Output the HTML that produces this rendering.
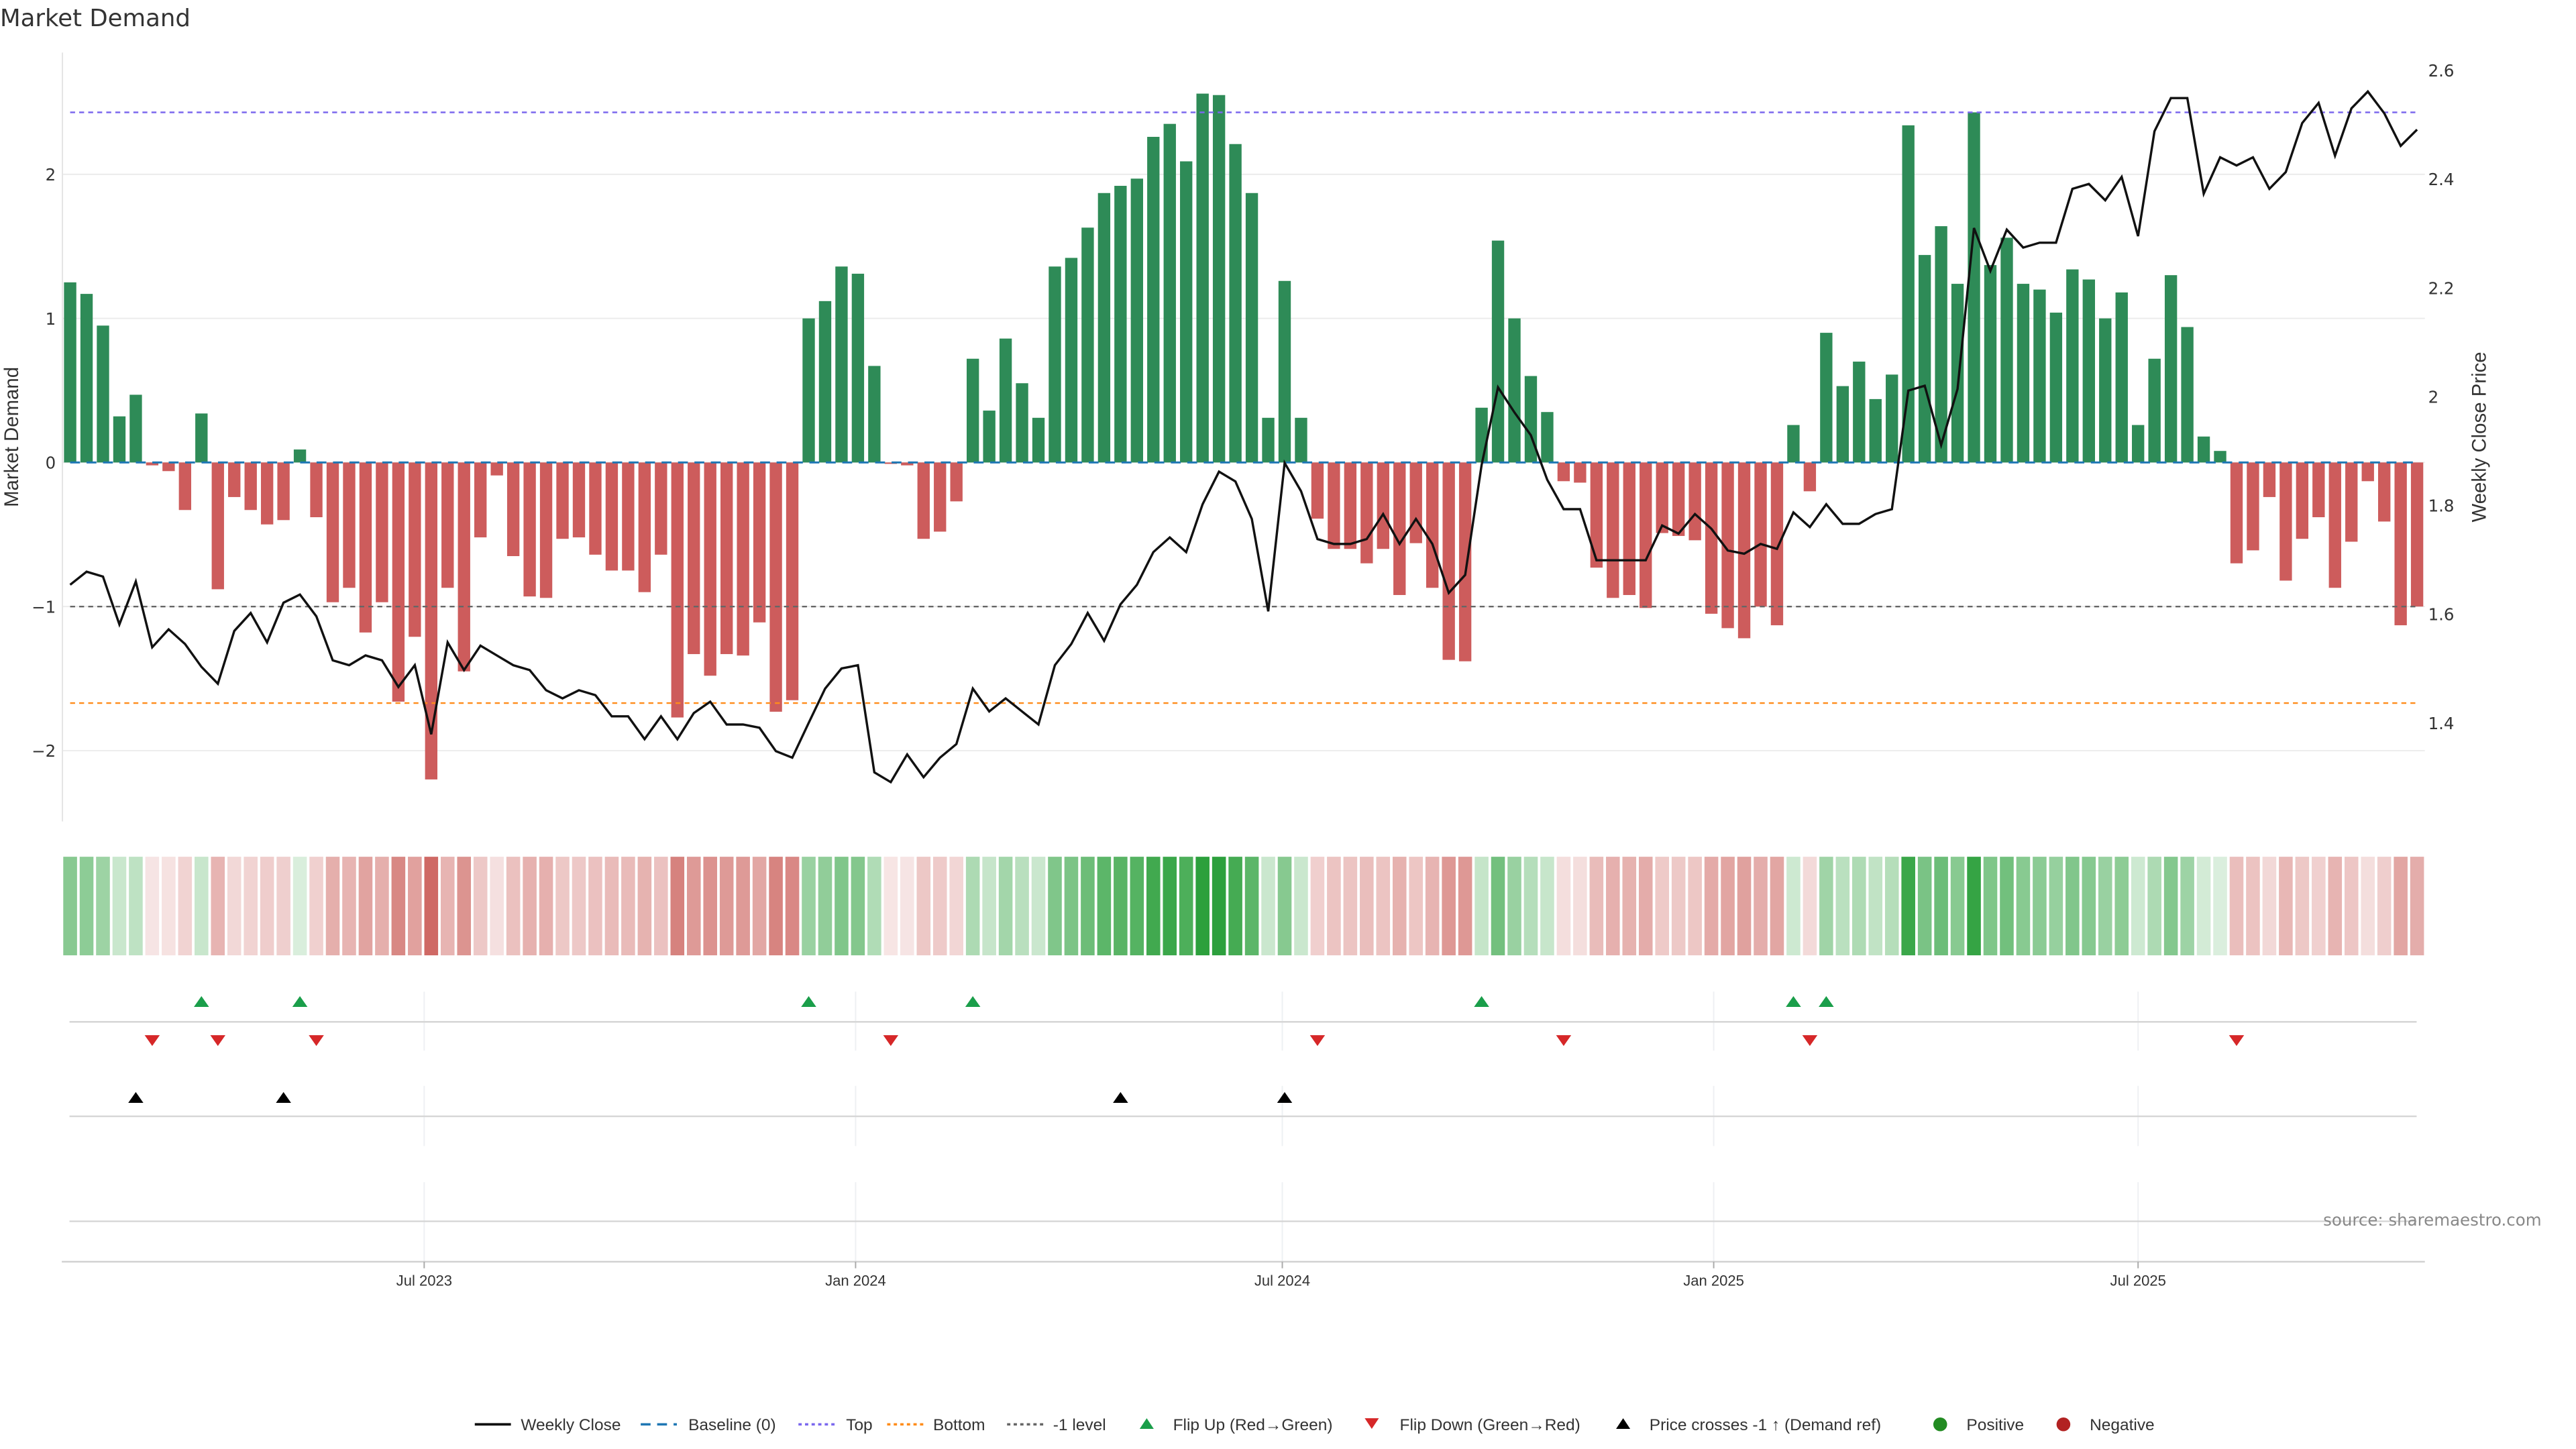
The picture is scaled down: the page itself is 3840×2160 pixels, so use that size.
<!DOCTYPE html>
<html><head><meta charset="utf-8"><title>Market Demand</title>
<style>
html,body{margin:0;padding:0;background:#fff;}
svg{display:block;}
text{font-family:"DejaVu Sans","Liberation Sans",sans-serif;}
.cond{font-family:"Liberation Sans Narrow","Liberation Sans",sans-serif;}
</style></head>
<body>
<svg id="chart" width="3840" height="2160" viewBox="0 0 1568 882" preserveAspectRatio="none" xmlns="http://www.w3.org/2000/svg">
  <text x="0" y="16" font-size="14.5" fill="#333">Market Demand</text>
  <g id="grid"></g>
  <g id="bars"></g>
  <g id="refs"></g>
  <g id="priceLayer"></g>
  <g id="axes"></g>
  <g id="heat"></g>
  <g id="events"></g>
  <g id="xaxis"></g>
  <text class="cond" transform="translate(11,266) rotate(-90)" text-anchor="middle" font-size="12" fill="#333">Market Demand</text>
  <text class="cond" transform="translate(1513,266) rotate(-90)" text-anchor="middle" font-size="12" fill="#333">Weekly Close Price</text>
  <text x="1547" y="746" text-anchor="end" font-size="10" fill="#888">source: sharemaestro.com</text>
  <g id="legend"></g>
</svg>
<script>
const startDate = "2023-01-31";
const demand = [1.25,1.17,0.95,0.32,0.47,-0.02,-0.06,-0.33,0.34,-0.88,
-0.24,-0.33,-0.43,-0.40,0.09,-0.38,-0.97,-0.87,-1.18,-0.97,
-1.66,-1.21,-2.20,-0.87,-1.45,-0.52,-0.09,-0.65,-0.93,-0.94,
-0.53,-0.52,-0.64,-0.75,-0.75,-0.90,-0.64,-1.77,-1.33,-1.48,
-1.33,-1.34,-1.11,-1.73,-1.65,1.00,1.12,1.36,1.31,0.67,
-0.01,-0.02,-0.53,-0.48,-0.27,0.72,0.36,0.86,0.55,0.31,
1.36,1.42,1.63,1.87,1.92,1.97,2.26,2.35,2.09,2.56,
2.55,2.21,1.87,0.31,1.26,0.31,-0.39,-0.60,-0.60,-0.70,
-0.60,-0.92,-0.56,-0.87,-1.37,-1.38,0.38,1.54,1.00,0.60,
0.35,-0.13,-0.14,-0.73,-0.94,-0.92,-1.01,-0.49,-0.51,-0.54,
-1.05,-1.15,-1.22,-1.00,-1.13,0.26,-0.20,0.90,0.53,0.70,
0.44,0.61,2.34,1.44,1.64,1.24,2.43,1.37,1.56,1.24,
1.20,1.04,1.34,1.27,1.00,1.18,0.26,0.72,1.30,0.94,
0.18,0.08,-0.70,-0.61,-0.24,-0.82,-0.53,-0.38,-0.87,-0.55,
-0.13,-0.41,-1.13,-1.00];
const price = [1.654,1.678,1.669,1.581,1.660,1.539,1.572,1.545,1.503,1.472,
1.569,1.602,1.548,1.621,1.636,1.596,1.515,1.506,1.524,1.515,
1.466,1.506,1.379,1.548,1.497,1.542,1.524,1.506,1.497,1.460,
1.445,1.460,1.451,1.412,1.412,1.370,1.412,1.370,1.418,1.439,
1.397,1.397,1.391,1.348,1.336,1.400,1.463,1.500,1.506,1.309,
1.291,1.342,1.300,1.336,1.361,1.463,1.421,1.445,1.421,1.397,
1.506,1.545,1.602,1.551,1.618,1.654,1.714,1.741,1.714,1.802,
1.862,1.844,1.775,1.605,1.878,1.826,1.738,1.729,1.729,1.738,
1.784,1.729,1.775,1.729,1.639,1.672,1.874,2.017,1.971,1.929,
1.847,1.793,1.793,1.699,1.699,1.699,1.699,1.763,1.748,1.784,
1.757,1.717,1.711,1.729,1.720,1.787,1.760,1.802,1.766,1.766,
1.784,1.793,2.011,2.020,1.911,2.014,2.310,2.231,2.307,2.274,
2.283,2.283,2.382,2.391,2.361,2.404,2.295,2.488,2.549,2.549,
2.373,2.440,2.425,2.440,2.382,2.413,2.503,2.540,2.443,2.530,
2.561,2.521,2.461,2.491];
const topLevel = 2.43;
const bottomLevel = -1.67;
const minusLevel = -1;
const leftTicks = [2,1,0,-1,-2];
const leftTickLabels = ["2","1","0","\u22121","\u22122"];
const rightTicks = [2.6,2.4,2.2,2.0,1.8,1.6,1.4];
const rightTickLabels = ["2.6","2.4","2.2","2","1.8","1.6","1.4"];
const dateTicks = ["2023-07-01","2024-01-01","2024-07-01","2025-01-01","2025-07-01"];
const dateTickLabels = ["Jul 2023","Jan 2024","Jul 2024","Jan 2025","Jul 2025"];

const NS = "http://www.w3.org/2000/svg";
const DAY = 86400000;
const t0 = Date.parse(startDate);
const X0 = 42.7, WEEK_PX = 9.99;
function xDate(ms){ return X0 + (ms - t0) / (7*DAY) * WEEK_PX; }
function xIdx(i){ return xDate(t0 + i*7*DAY); }
function yL(v){ return 281.5 - v*87.7; }
function yR(p){ return 109 + (2.4 - p)*331; }
function pFromY(y){ return 2.4 - (y - 109)/331; }
const PL = 38, PR = 1476;
function mk(tag, attrs, parent){
  const e = document.createElementNS(NS, tag);
  for (const k in attrs) e.setAttribute(k, attrs[k]);
  parent.appendChild(e);
  return e;
}
const g = id => document.getElementById(id);

// gridlines + left ticks
leftTicks.forEach((v,k)=>{
  const l = mk('line',{x1:PL,x2:PR,y1:yL(v),y2:yL(v),stroke:'#ececec','stroke-width':0.8},g('grid'));
  
  
  const t = mk('text',{x:34,y:yL(v)+3.8,'text-anchor':'end','font-size':10,fill:'#333'},g('axes'));
  t.textContent = leftTickLabels[k];
  
  
});
rightTicks.forEach((p,k)=>{
  const t = mk('text',{x:1478,y:yR(p)+3.8,'font-size':10,fill:'#333'},g('axes'));
  t.textContent = rightTickLabels[k];
  
  
});
const spine = mk('line',{x1:PL,x2:PL,y1:32,y2:500,stroke:'#e4e4e4','stroke-width':0.8},g('axes'));



// bars
demand.forEach((v,i)=>{
  const cx = xIdx(i), y0 = yL(0), y1 = yL(v);
  const r = mk('rect',{x:cx-3.75,width:7.5,y:Math.min(y0,y1),height:Math.max(0.6,Math.abs(y1-y0)),fill:v>=0?'#2e8b57':'#cd5c5c'},g('bars'));
  
  
});

// reference lines
function hline(v,color,dash,name,w){
  const l = mk('line',{x1:X0,x2:xIdx(demand.length-1),y1:yL(v),y2:yL(v),stroke:color,'stroke-width':w||1,'stroke-dasharray':dash},g('refs'));
  
  
}
hline(topLevel,'#7b68ee','3 2.5','top-line');
hline(bottomLevel,'#ff8c1a','3 2.5','bottom-line');
hline(minusLevel,'#666','3 2.5','minus-one-line');
hline(0,'#1f77b4','6 4','baseline-zero',1.2);

// price line
const pts = price.map((p,i)=>xIdx(i).toFixed(2)+','+yR(p).toFixed(2)).join(' ');
const pl = mk('polyline',{points:pts,fill:'none',stroke:'#111','stroke-width':1.4,'stroke-linejoin':'miter'},g('priceLayer'));



// heatmap
const maxAbs = Math.max(...demand.map(Math.abs));
demand.forEach((v,i)=>{
  const t = 0.15 + 0.85*Math.abs(v)/maxAbs;
  const base = v>=0 ? [44,160,60] : [200,85,80];
  const c = base.map(b=>Math.round(255 - t*(255-b)));
  const r = mk('rect',{x:xIdx(i)-4.2,width:8.4,y:521.5,height:60,fill:`rgb(${c[0]},${c[1]},${c[2]})`},g('heat'));
  
  
});

// event panel grid
dateTicks.forEach(d=>{
  const x = xDate(Date.parse(d));
  [[603.6,639.5],[661,697.6],[719.6,768]].forEach(s=>{
    const l = mk('line',{x1:x,x2:x,y1:s[0],y2:s[1],stroke:'#eef0f3','stroke-width':0.8},g('events'));
    
    
  });
});
[622,679.5,743.4].forEach(y=>{
  const l = mk('line',{x1:42.3,x2:1471,y1:y,y2:y,stroke:'#d6d6d6','stroke-width':1},g('events'));
  
  
});
function tri(x,y,up,color,name){
  const w=4.6,h=6.6;
  const p = up ? `${x-w},${y+h/2} ${x+w},${y+h/2} ${x},${y-h/2}` : `${x-w},${y-h/2} ${x+w},${y-h/2} ${x},${y+h/2}`;
  const e = mk('polygon',{points:p,fill:color},g('events'));
  
  
}
const crossPrice = pFromY(yL(minusLevel));
for (let i=1;i<demand.length;i++){
  if (demand[i-1]<0 && demand[i]>=0) tri(xIdx(i),609.6,true,'#1a9e4a','flip-up-marker');
  if (demand[i-1]>=0 && demand[i]<0) tri(xIdx(i),633.4,false,'#d62728','flip-down-marker');
  if (price[i-1]<crossPrice && price[i]>=crossPrice) tri(xIdx(i),668,true,'#000','price-cross-marker');
}

// x axis
const ax = mk('line',{x1:37.6,x2:1476,y1:768,y2:768,stroke:'#d0d0d0','stroke-width':1},g('xaxis'));


dateTicks.forEach((d,k)=>{
  const x = xDate(Date.parse(d));
  const tk = mk('line',{x1:x,x2:x,y1:768,y2:772,stroke:'#aaa','stroke-width':0.8},g('xaxis'));
  
  
  const t = mk('text',{x:x,y:782.5,'text-anchor':'middle','font-size':9,fill:'#333',class:'cond'},g('xaxis'));
  t.textContent = dateTickLabels[k];
  
  
});

// legend
const L = g('legend'), LY = 867;
function ltext(x,s){
  const t = mk('text',{x:x,y:LY+3.5,'font-size':10,fill:'#333',class:'cond'},L);
  t.textContent = s;
  
  
}
function lline(x,color,dash,w){
  const l = mk('line',{x1:x,x2:x+22,y1:LY,y2:LY,stroke:color,'stroke-width':w,'stroke-dasharray':dash},L);
  
  
}
lline(289,'#111','',1.5); ltext(317,'Weekly Close');
lline(390,'#1f77b4','6 4',1.4); ltext(419,'Baseline (0)');
lline(486,'#7b68ee','2 2',1.4); ltext(515,'Top');
lline(540,'#ff8c1a','2 2',1.4); ltext(568,'Bottom');
lline(613,'#666','2 2',1.4); ltext(641,'-1 level');
function ltri(x,up,color){
  const w=4.3,h=6.5,y=LY-0.5;
  const p = up ? `${x-w},${y+h/2} ${x+w},${y+h/2} ${x},${y-h/2}` : `${x-w},${y-h/2} ${x+w},${y-h/2} ${x},${y+h/2}`;
  const e = mk('polygon',{points:p,fill:color},L);
  
  
}
ltri(698,true,'#1a9e4a'); ltext(714,'Flip Up (Red\u2192Green)');
ltri(835,false,'#d62728'); ltext(852,'Flip Down (Green\u2192Red)');
ltri(988,true,'#000'); ltext(1004,'Price crosses -1 \u2191 (Demand ref)');
function ldot(x,color){
  const c = mk('circle',{cx:x,cy:LY,r:4.2,fill:color},L);
  
  
}
ldot(1181,'#228b22'); ltext(1197,'Positive');
ldot(1256,'#b22222'); ltext(1272,'Negative');
</script>
</body></html>
